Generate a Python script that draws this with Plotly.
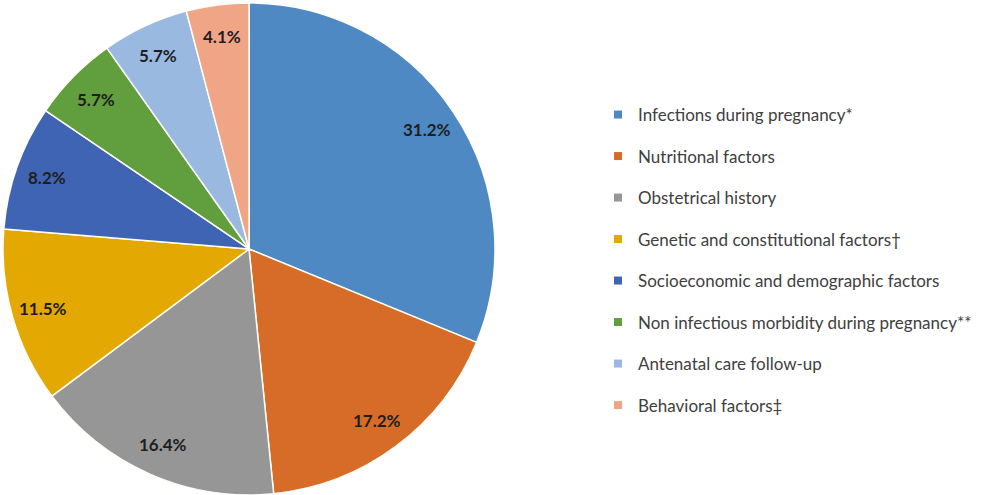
import math
import plotly.graph_objects as go

categories = [
    "Infections during pregnancy*",
    "Nutritional factors",
    "Obstetrical history",
    "Genetic and constitutional factors\u2020",
    "Socioeconomic and demographic factors",
    "Non infectious morbidity during pregnancy**",
    "Antenatal care follow-up",
    "Behavioral factors\u2021",
]
values = [31.2, 17.2, 16.4, 11.5, 8.2, 5.7, 5.7, 4.1]
colors = ["#4E89C4", "#D76C29", "#969696", "#E3A902", "#3E64B3", "#619E3D", "#99B9E1", "#F1A587"]

W, H = 997, 495
dom_x = [3 / W, 495 / W]
dom_y = [0.0, 0.994]
FONT = "Lato, Open Sans, sans-serif"

fig = go.Figure()
fig.add_trace(go.Pie(
    labels=categories,
    values=values,
    sort=False,
    direction="clockwise",
    rotation=0,
    marker=dict(colors=colors, line=dict(color="#FFFDF5", width=1.5)),
    textinfo="none",
    hoverinfo="label+percent",
    domain=dict(x=dom_x, y=dom_y),
    showlegend=False,
))

# legend entries (one per slice, same colours)
for i, (c, col) in enumerate(zip(categories, colors)):
    fig.add_trace(go.Scatter(
        x=[None], y=[None], mode="markers", name=c,
        marker=dict(symbol="square", size=8, color=col),
        legendgroup="g%d" % i, showlegend=True, hoverinfo="skip",
    ))

# data labels placed along each slice's mid-angle
cx = (dom_x[0] + dom_x[1]) / 2
cy = (dom_y[0] + dom_y[1]) / 2
radius_px = min((dom_x[1] - dom_x[0]) * W, (dom_y[1] - dom_y[0]) * H) / 2
total = sum(values)
cum = 0.0
annotations = []
for v in values:
    mid = (cum + v / 2) / total * 2 * math.pi
    cum += v
    r = radius_px * 0.87
    annotations.append(dict(
        x=cx + r * math.sin(mid) / W,
        y=cy + r * math.cos(mid) / H,
        xref="paper", yref="paper",
        xanchor="center", yanchor="middle",
        text="<b>%.1f%%</b>" % v,
        showarrow=False,
        font=dict(family=FONT, size=17, color="#1e1e1e"),
    ))

fig.update_layout(
    width=W, height=H,
    margin=dict(l=0, r=0, t=0, b=0),
    paper_bgcolor="white",
    plot_bgcolor="white",
    showlegend=True,
    xaxis=dict(visible=False),
    yaxis=dict(visible=False),
    legend=dict(
        x=598 / W, y=1 - 97 / H, xanchor="left", yanchor="top",
        font=dict(family=FONT, size=17, color="#404040"),
        tracegroupgap=16.4,
        itemclick=False, itemdoubleclick=False,
        bgcolor="rgba(0,0,0,0)",
    ),
    annotations=annotations,
)

fig.write_html("out.html", config={"displayModeBar": False},
               post_script="document.body.style.margin='0';")
